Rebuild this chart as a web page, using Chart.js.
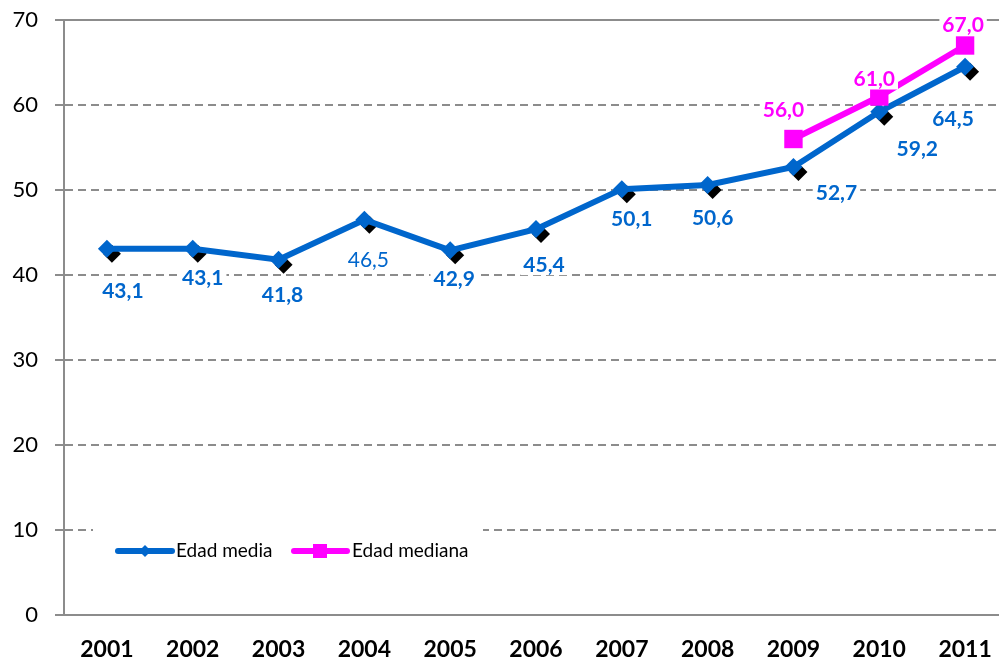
<!DOCTYPE html>
<html>
<head>
<meta charset="utf-8">
<script src="https://cdn.jsdelivr.net/npm/chart.js@4"></script>
<style>
  html, body { margin: 0; padding: 0; background: #fff; overflow: hidden; }
  #wrap { width: 1010px; height: 661px; }
  #edadChart { display: block; width: 1010px; height: 661px; }
</style>
</head>
<body>
<div id="wrap"><canvas id="edadChart" width="1010" height="661" style="width:1010px;height:661px"></canvas></div>
<script>
const years        = ['2001', '2002', '2003', '2004', '2005', '2006', '2007', '2008', '2009', '2010', '2011'];
const edadMedia    = [43.1, 43.1, 41.8, 46.5, 42.9, 45.4, 50.1, 50.6, 52.7, 59.2, 64.5];
const edadMediana  = [null, null, null, null, null, null, null, null, 56.0, 61.0, 67.0];
const yTicks       = [0, 10, 20, 30, 40, 50, 60, 70];

const BLUE  = '#0066CC';
const PINK  = '#FF00FF';
const GRAY  = '#8c8c8c';
const FONT  = 'Lato, Carlito, Calibri, sans-serif';

// label placement next to each point (dx, dy in px)
const mediaLabelPos   = [[16, 42], [10, 29], [4, 35], [4, 39], [4, 28], [8, 35], [10, 29], [5, 32], [43, 25], [38, 36], [-12, 51]];
const medianaLabelPos = [null, null, null, null, null, null, null, null, [-10, -30], [-5, -18], [-2, -21]];
const mediaLabelBold  = [true, true, true, false, true, true, true, true, true, true, true];

function fmt(v) {
  return v.toFixed(1).replace('.', ',');
}

function diamond(ctx, x, y, r) {
  ctx.beginPath();
  ctx.moveTo(x, y - r);
  ctx.lineTo(x + r, y);
  ctx.lineTo(x, y + r);
  ctx.lineTo(x - r, y);
  ctx.closePath();
  ctx.fill();
}

// black drop shadow under the blue diamonds + solid top border
const decorPlugin = {
  id: 'decor',
  beforeDatasetsDraw(chart) {
    const ctx  = chart.ctx;
    const area = chart.chartArea;
    ctx.save();
    ctx.strokeStyle = GRAY;
    ctx.lineWidth = 2;
    ctx.beginPath();
    ctx.moveTo(area.left, area.top);
    ctx.lineTo(area.right, area.top);
    ctx.stroke();

    ctx.fillStyle = '#000';
    chart.getDatasetMeta(1).data.forEach(p => diamond(ctx, p.x + 5, p.y + 5, 9));
    ctx.restore();
  }
};

// value labels with white boxes behind them
const labelPlugin = {
  id: 'valueLabels',
  afterDatasetsDraw(chart) {
    const ctx = chart.ctx;
    ctx.save();
    ctx.textAlign = 'center';
    ctx.textBaseline = 'middle';

    const drawSet = (metaIndex, values, positions, color, boldList) => {
      const pts = chart.getDatasetMeta(metaIndex).data;
      values.forEach((v, i) => {
        if (v === null || !positions[i]) return;
        const bold = boldList ? boldList[i] : true;
        ctx.font = (bold ? 'bold ' : '') + '21px ' + FONT;
        const txt = fmt(v);
        const x = pts[i].x + positions[i][0];
        const y = pts[i].y + positions[i][1];
        const w = ctx.measureText(txt).width;
        ctx.fillStyle = '#fff';
        ctx.fillRect(x - w / 2 - 3, y - 11, w + 6, 22);
        ctx.fillStyle = color;
        ctx.fillText(txt, x, y + 1);
      });
    };

    drawSet(1, edadMedia, mediaLabelPos, BLUE, mediaLabelBold);
    drawSet(0, edadMediana, medianaLabelPos, PINK, null);
    ctx.restore();
  }
};

// legend box inside the plot, lower left
const legendPlugin = {
  id: 'innerLegend',
  afterDraw(chart) {
    const ctx = chart.ctx;
    const ly = 551;
    ctx.save();
    ctx.fillStyle = '#fff';
    ctx.fillRect(93, 527, 390, 46);

    ctx.lineCap = 'round';
    ctx.lineWidth = 6;

    ctx.strokeStyle = BLUE;
    ctx.beginPath();
    ctx.moveTo(118, ly);
    ctx.lineTo(172, ly);
    ctx.stroke();
    ctx.fillStyle = BLUE;
    diamond(ctx, 145, ly, 6);

    ctx.strokeStyle = PINK;
    ctx.beginPath();
    ctx.moveTo(294, ly);
    ctx.lineTo(347, ly);
    ctx.stroke();
    ctx.fillStyle = PINK;
    ctx.fillRect(313, ly - 7, 14, 14);

    ctx.fillStyle = '#000';
    ctx.font = '19px ' + FONT;
    ctx.textAlign = 'left';
    ctx.textBaseline = 'middle';
    ctx.fillText(chart.data.datasets[1].label, 176, ly);
    ctx.fillText(chart.data.datasets[0].label, 352, ly);
    ctx.restore();
  }
};

new Chart(document.getElementById('edadChart'), {
  type: 'line',
  data: {
    labels: years,
    datasets: [
      {
        label: 'Edad mediana',
        data: edadMediana,
        borderColor: PINK,
        backgroundColor: PINK,
        borderWidth: 6,
        pointStyle: 'rect',
        pointRadius: 13,
        pointBorderWidth: 0,
        tension: 0,
        clip: false,
        order: 0
      },
      {
        label: 'Edad media',
        data: edadMedia,
        borderColor: BLUE,
        backgroundColor: BLUE,
        borderWidth: 6,
        pointStyle: 'rectRot',
        pointRadius: 9,
        pointBorderWidth: 0,
        tension: 0,
        clip: false,
        order: 1
      }
    ]
  },
  options: {
    responsive: false,
    animation: false,
    events: [],
    layout: { autoPadding: false, padding: { top: 20, right: 2, left: 0, bottom: 0 } },
    plugins: {
      legend: { display: false },
      tooltip: { enabled: false }
    },
    scales: {
      x: {
        offset: true,
        afterFit: s => { s.height = 46; },
        // invisible tick marks push the year labels down
        grid: { display: false, drawTicks: true, tickLength: 21, tickColor: 'rgba(0,0,0,0)', offset: true },
        border: { display: true, color: GRAY, width: 2 },
        ticks: {
          color: '#000',
          padding: 0,
          maxRotation: 0,
          font: { family: FONT, size: 23, weight: 'bold' }
        }
      },
      y: {
        min: 0,
        max: 70,
        afterFit: s => {
          s.width = 64;
          s.paddingTop = 0;
          s.paddingBottom = 0;
        },
        afterBuildTicks: s => { s.ticks = yTicks.map(v => ({ value: v })); },
        grid: {
          color: GRAY,
          lineWidth: 2,
          tickLength: 9,
          tickColor: GRAY,
          tickBorderDash: []
        },
        border: { display: true, color: GRAY, width: 2, dash: [8, 5] },
        ticks: {
          color: '#000',
          padding: 17,
          font: { family: FONT, size: 22 }
        }
      }
    }
  },
  plugins: [decorPlugin, labelPlugin, legendPlugin]
});
</script>
</body>
</html>
